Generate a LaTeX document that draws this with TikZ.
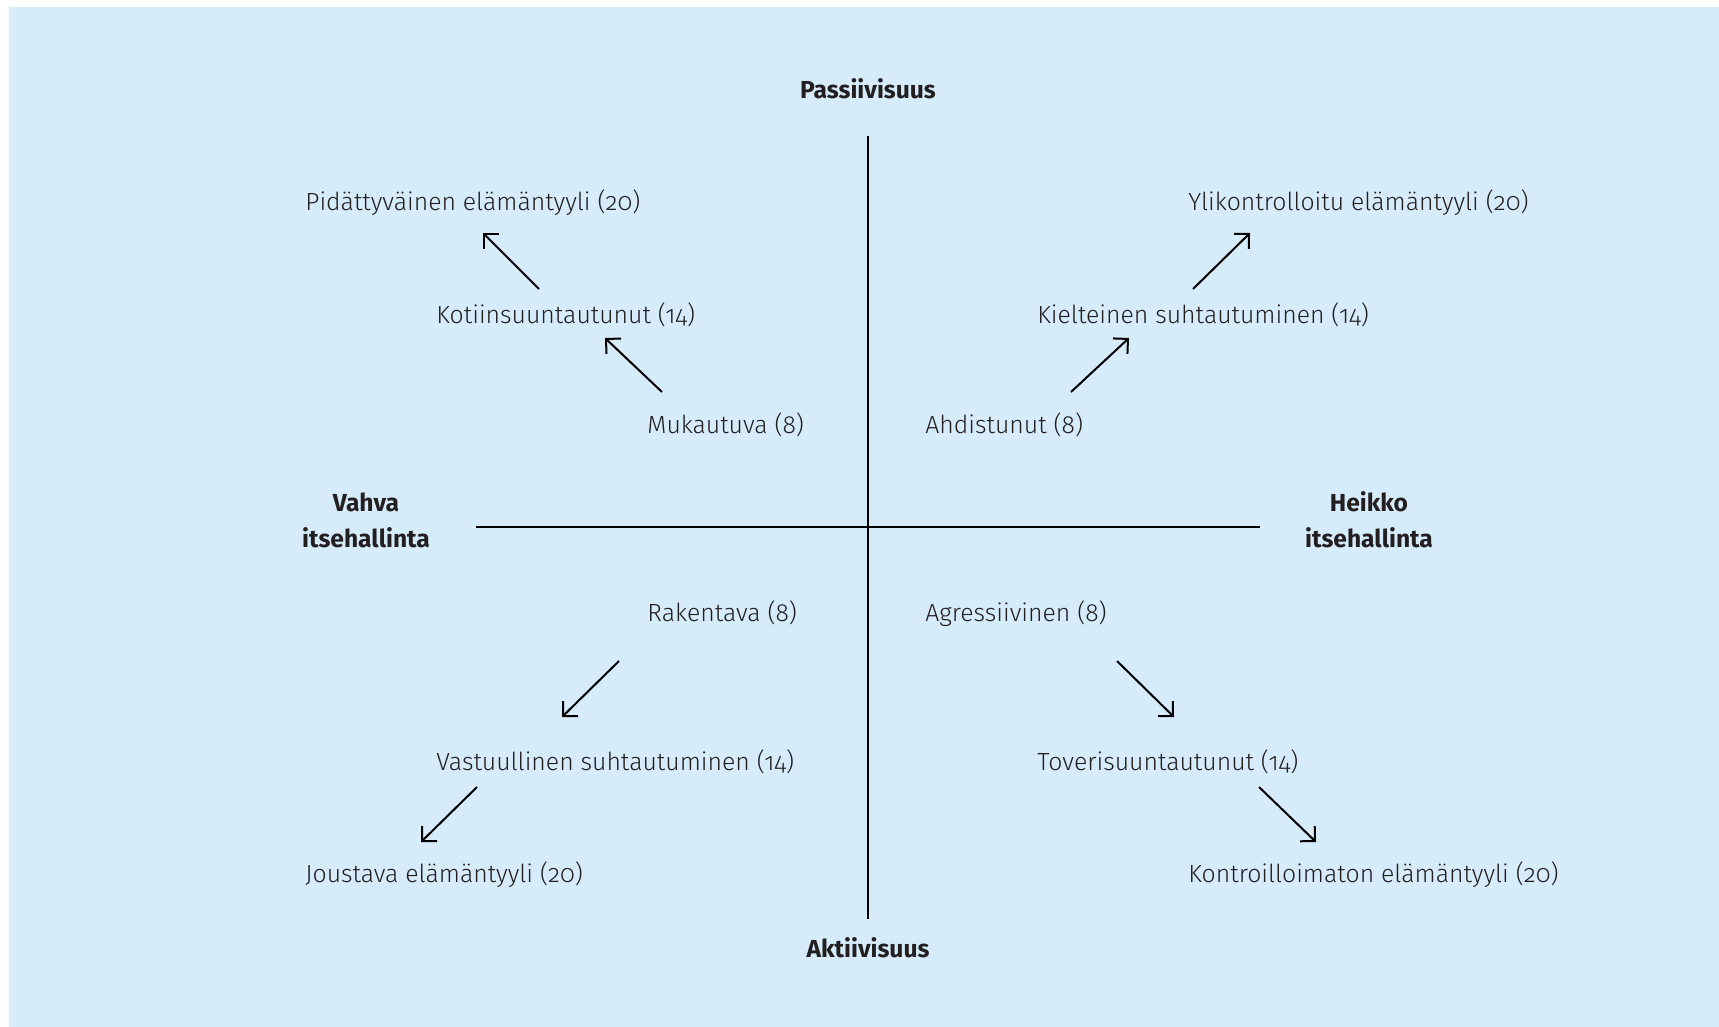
\documentclass[tikz,border=0pt]{standalone}
\usepackage{fontspec}
\setmainfont{Fira Sans}[Numbers=OldStyle, UprightFont={Fira Sans Light}, BoldFont={Fira Sans Bold}]
\usetikzlibrary{arrows.meta,calc}
\definecolor{panelblue}{RGB}{214,236,250}
\definecolor{ink}{RGB}{35,31,32}

\begin{document}
\begin{tikzpicture}[x=0.5pt, y=-0.5pt,
        lbl/.style={anchor=base west, inner sep=0, text=ink, font=\fontsize{12.4}{14}\selectfont},
        axlbl/.style={inner sep=0, text=ink, align=center, font=\fontsize{12.3}{18}\selectfont\bfseries},
        axis/.style={line width=1pt},
        arr/.style={line width=1pt, -{Straight Barb[angle=90:7.5pt]}}]
        \useasboundingbox (0,0) rectangle (1719,1027);
        \fill[panelblue] (9,7) rectangle (1719,1027);

        % axes
        \coordinate (ntop) at (868,136);
        \coordinate (nbot) at (868,919);
        \coordinate (wleft) at (476,527);
        \coordinate (wright) at (1260,527);
        \draw[axis] (ntop) -- (nbot);
        \draw[axis] (wleft) -- (wright);

        \node[axlbl, anchor=base] (pass) at (868,99) {Passiivisuus};
        \node[axlbl, anchor=base] (akt) at (868,957) {Aktiivisuus};
        \node[axlbl] (vahva) at (366,520) {Vahva\\itsehallinta};
        \node[axlbl] (heikko) at (1369,520) {Heikko\\itsehallinta};

        % upper left
        \node[lbl] (muk) at (647,433.5) {Mukautuva (8)};
        \node[lbl] (koti) at (436,323.5) {Kotiinsuuntautunut (14)};
        \node[lbl] (pid) at (305,210.5) {Pidättyväinen elämäntyyli (20)};
        \draw[arr] ($(muk.base west)+(15,-41.5)$) -- ($(koti.base west)+(169,14.5)$);
        \draw[arr] ($(koti.base west)+(103,-34.5)$) -- ($(pid.base west)+(178,22.5)$);

        % upper right
        \node[lbl] (ahd) at (925,433.5) {Ahdistunut (8)};
        \node[lbl] (kiel) at (1037,323.5) {Kielteinen suhtautuminen (14)};
        \node[lbl] (ylik) at (1188,210.5) {Ylikontrolloitu elämäntyyli (20)};
        \draw[arr] ($(ahd.base west)+(146,-41.5)$) -- ($(kiel.base west)+(92,14.5)$);
        \draw[arr] ($(kiel.base west)+(156,-34.5)$) -- ($(ylik.base west)+(62,22.5)$);

        % lower left
        \node[lbl] (rak) at (647,621.5) {Rakentava (8)};
        \node[lbl] (vast) at (436,770.5) {Vastuullinen suhtautuminen (14)};
        \node[lbl] (jous) at (305,882.5) {Joustava elämäntyyli (20)};
        \draw[arr] ($(rak.base west)+(-28,39.5)$) -- ($(vast.base west)+(126,-53.5)$);
        \draw[arr] ($(vast.base west)+(41,16.5)$) -- ($(jous.base west)+(116,-40.5)$);

        % lower right
        \node[lbl] (agr) at (925,621.5) {Agressiivinen (8)};
        \node[lbl] (tov) at (1037,770.5) {Toverisuuntautunut (14)};
        \node[lbl] (kont) at (1188,882.5) {Kontroilloimaton elämäntyyli (20)};
        \draw[arr] ($(agr.base west)+(192,39.5)$) -- ($(tov.base west)+(137,-53.5)$);
        \draw[arr] ($(tov.base west)+(222,16.5)$) -- ($(kont.base west)+(128,-40.5)$);
\end{tikzpicture}
\end{document}
